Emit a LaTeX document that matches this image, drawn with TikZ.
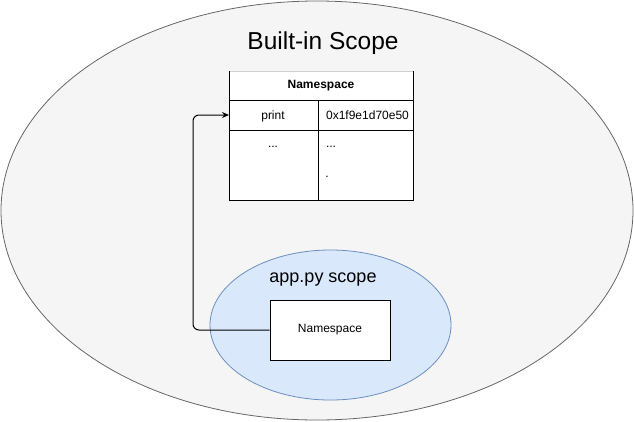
\documentclass[tikz,border=0pt]{standalone}
\usepackage{fontspec}
\setmainfont{Liberation Sans}
\usetikzlibrary{arrows.meta}
\definecolor{outerfill}{HTML}{F5F5F5}
\definecolor{outerline}{HTML}{666666}
\definecolor{bluefill}{HTML}{DAE8FC}
\definecolor{blueline}{HTML}{6C8EBF}
\definecolor{toprule}{HTML}{D0D0D0}
\tikzset{
  celltext/.style={font=\fontsize{12}{14}\selectfont, inner sep=0pt},
  bigtext/.style={font=\fontsize{24.5}{28}\selectfont, inner sep=0pt},
  midtext/.style={font=\fontsize{18}{22}\selectfont, inner sep=0pt},
  conn/.style={draw=black, line width=1pt, rounded corners=6pt, -{Stealth[length=7pt,width=6pt]}},
}
\begin{document}
\begin{tikzpicture}[x=1pt,y=-1pt]
\useasboundingbox (0,0) rectangle (634,421);
% outer ellipse
\draw[fill=outerfill, draw=outerline, line width=0.8pt] (317,210.5) ellipse [x radius=316, y radius=209.5];
\node[bigtext] (builtin) at (323,43) {Built-in Scope};
% table
\fill[white] (229,71) rectangle (413,200);
\draw[toprule, line width=0.8pt] (229,71) -- (413,71);
\draw[black, line width=1pt] (229,71) -- (229,200) -- (413,200) -- (413,71);
\draw[black, line width=1pt] (229,100) -- (413,100);
\draw[black, line width=1pt] (229,130) -- (413,130);
\draw[black, line width=1pt] (318,100) -- (318,200);
\node[celltext, font=\fontsize{12}{14}\selectfont\bfseries] (nshead) at (321,86) {Namespace};
\coordinate (printrow) at (229,115);
\node[celltext, anchor=base] (print) at (273,119) {print};
\node[celltext, anchor=base] (addr) at (367.5,119) {0x1f9e1d70e50};
\node[celltext] (dots1) at (273,147) {...};
\node[celltext] (dots2) at (331,147) {...};
\node[celltext] (dot3) at (327,177) {.};
% app.py ellipse
\draw[fill=bluefill, draw=blueline, line width=0.8pt] (330.5,325) ellipse [x radius=120.5, y radius=75];
\node[midtext] (appscope) at (323,280) {app.py scope};
\node[draw=black, fill=white, line width=1pt, minimum width=120pt, minimum height=60pt, inner sep=0pt, celltext] (ns) at (330,330) {Namespace};
% connector
\draw[conn] (ns.west) -- (193,330) -- (193,115) -- (printrow);
\end{tikzpicture}
\end{document}
